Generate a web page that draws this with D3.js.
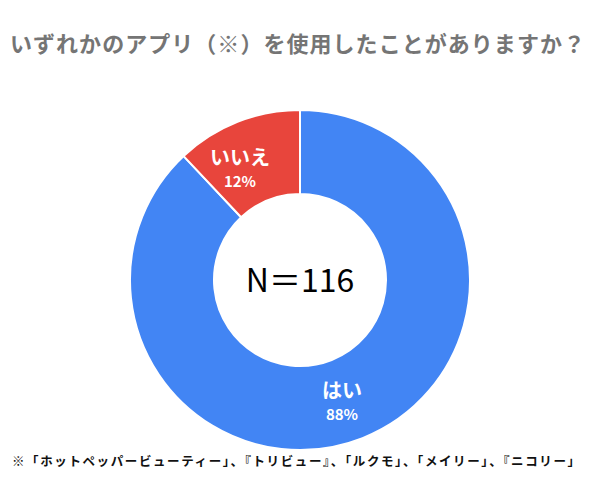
<!DOCTYPE html>
<html><head><meta charset="utf-8">
<script src="https://cdn.jsdelivr.net/npm/d3@7"></script>
<style>body{margin:0;background:#fff}</style>
</head><body>
<svg width="600" height="480"></svg>
<script>
// data
const labels = ["はい", "いいえ"];
const values = [88, 12];
const colors = ["#4285f4", "#e8453c"];

let svg = d3.select("svg");
const cx = 300, cy = 280, rOut = 170, rIn = 86;
const font = "'Noto Sans CJK JP', sans-serif";

// title
svg.append("text")
    .attr("x", 10).attr("y", 52)
    .attr("textLength", 575).attr("lengthAdjust", "spacing")
    .style("font-family", font).style("font-weight", "bold")
    .style("font-size", "22px").style("fill", "#757575")
    .text("いずれかのアプリ（※）を使用したことがありますか？");

let pie = d3.pie().sort(null)(values);
let arc = d3.arc().innerRadius(rIn).outerRadius(rOut);
let g = svg.append("g").attr("transform", `translate(${cx},${cy})`);

g.selectAll("path").data(pie).enter().append("path")
    .attr("d", arc)
    .attr("fill", (d, i) => colors[i])
    .attr("stroke", "#fff").attr("stroke-width", 2);

// slice labels
pie.forEach((d, i) => {
    let x, y;
    if (i === 0) { x = 42; y = 118; } else { x = -60; y = -115; }
    let t = g.append("text").attr("text-anchor", "middle")
        .style("font-family", font).style("font-weight", "bold").style("fill", "#fff");
    t.append("tspan").attr("x", x).attr("y", y).style("font-size", "20px").text(labels[i]);
    t.append("tspan").attr("x", x).attr("y", y + 22).style("font-size", "15px").text(values[i] + "%");
});

// center
g.append("text").attr("text-anchor", "middle").attr("y", 12)
    .style("font-family", font).style("font-size", "32px").style("fill", "#000")
    .text("N＝116");

// footnote
svg.append("text")
    .attr("x", 12).attr("y", 466)
    .attr("textLength", 568).attr("lengthAdjust", "spacing")
    .style("font-family", font).style("font-weight", "bold")
    .style("font-size", "12.5px").style("fill", "#111")
    .text("※「ホットペッパービューティー」、『トリビュー』、「ルクモ」、「メイリー」、『ニコリー」");
</script>
</body></html>
